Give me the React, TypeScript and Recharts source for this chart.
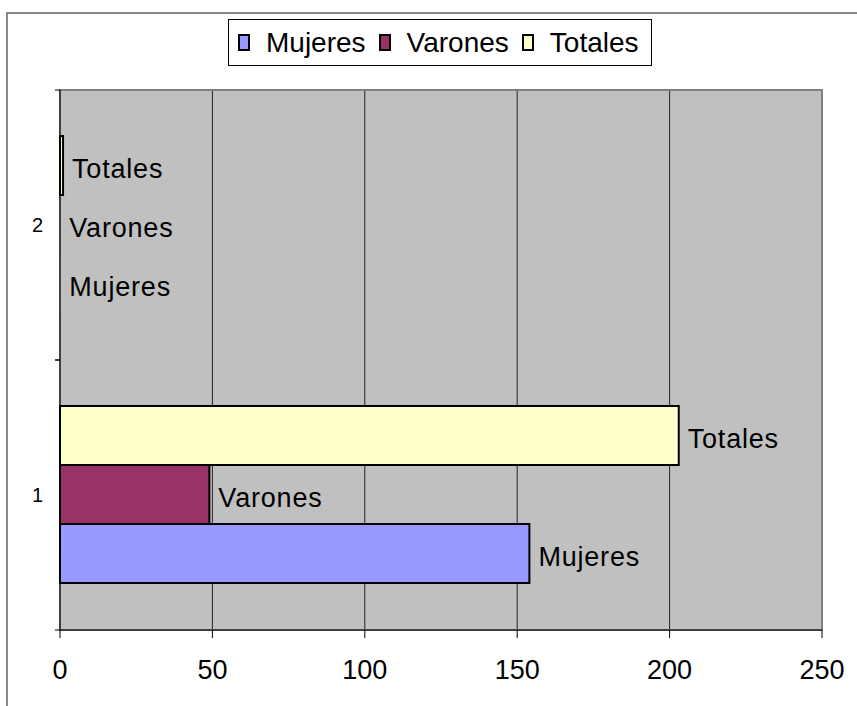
import {
  BarChart,
  Bar,
  Cell,
  XAxis,
  YAxis,
  CartesianGrid,
  Legend,
  LabelList,
  ReferenceArea,
} from "recharts"

const categories = ["1", "2"]
const mujeres = [154, 0]
const varones = [49, 0]
const totales = [203, 1]
const xTicks = [0, 50, 100, 150, 200, 250]
const seriesNames = ["Mujeres", "Varones", "Totales"]
const seriesColors = ["#9999FF", "#993366", "#FFFFCC"]

const data = categories.map((cat, i) => ({
  cat,
  Mujeres: mujeres[i],
  Varones: varones[i],
  Totales: totales[i],
}))

const FONT = '"Liberation Sans", Arial, sans-serif'

function LegendBox() {
  return (
    <div
      style={{
        display: "flex",
        alignItems: "center",
        height: 47,
        boxSizing: "border-box",
        border: "1px solid #000",
        background: "#fff",
        padding: "0 12px 0 9px",
        fontFamily: FONT,
        fontSize: 28,
        color: "#000",
        whiteSpace: "nowrap",
      }}
    >
      {seriesNames.map((name, i) => (
        <span key={name} style={{ display: "flex", alignItems: "center", marginRight: i < 2 ? 13 : 0 }}>
          <span
            style={{
              display: "inline-block",
              width: 12,
              height: 17,
              boxSizing: "border-box",
              border: "2px solid #000",
              background: seriesColors[i],
              marginRight: 16,
            }}
          />
          <span>{name}</span>
        </span>
      ))}
    </div>
  )
}

// category label plus small tick marks on the band edges
function CatTick(props: any) {
  const { x, y, payload } = props
  const half = payload && payload.offset ? payload.offset : 135
  return (
    <g>
      <line x1={55} x2={60} y1={y - half} y2={y - half} stroke="#000" />
      <line x1={55} x2={60} y1={y + half} y2={y + half} stroke="#000" />
      <text x={x} y={y} dy="0.35em" textAnchor="end" fill="#000" fontSize={20} fontFamily={FONT}>
        {payload.value}
      </text>
    </g>
  )
}

export default function App() {
  // bars listed top to bottom inside each band
  const order = [2, 1, 0]

  return (
    <div style={{ position: "relative", width: 857, height: 706, overflow: "hidden", background: "#fff", fontFamily: FONT }}>
      <style>{`body{margin:0}`}</style>
      <div
        style={{
          position: "absolute",
          left: 6,
          top: 12,
          width: 900,
          height: 800,
          borderTop: "2px solid #888",
          borderLeft: "2px solid #888",
        }}
      />
      <div style={{ position: "absolute", left: 0, top: 0 }}>
        <BarChart
          width={857}
          height={706}
          data={data}
          layout="vertical"
          margin={{ top: 90, right: 35, left: 0, bottom: 0 }}
          barCategoryGap="17%"
          barGap={0}
        >
          <CartesianGrid horizontal={false} vertical stroke="#222" fill="#C0C0C0" fillOpacity={1} />
          <ReferenceArea x1={0} x2={250} fill="none" stroke="#808080" strokeWidth={2} />
          <XAxis
            type="number"
            domain={[0, 250]}
            ticks={xTicks}
            height={76}
            tickSize={8}
            tickMargin={22}
            axisLine={{ stroke: "#000" }}
            tickLine={{ stroke: "#000" }}
            tick={{ fill: "#000", fontSize: 27, fontFamily: FONT }}
          />
          <YAxis
            type="category"
            dataKey="cat"
            reversed
            width={60}
            tickLine={false}
            tickSize={5}
            tickMargin={12}
            axisLine={{ stroke: "#000" }}
            tick={<CatTick />}
          />
          <Legend
            verticalAlign="middle"
            align="center"
            layout="horizontal"
            wrapperStyle={{ left: 228, top: 19, width: "auto" }}
            content={() => <LegendBox />}
          />
          {order.map((i) => (
            <Bar
              key={seriesNames[i]}
              dataKey={seriesNames[i]}
              fill={seriesColors[i]}
              stroke="#000"
              strokeWidth={2}
              minPointSize={0.3}
              isAnimationActive={false}
            >
              {data.map((d: any, k) => (
                <Cell key={k} stroke={d[seriesNames[i]] === 0 ? "none" : "#000"} />
              ))}
              <LabelList
                dataKey={seriesNames[i]}
                position="right"
                offset={9}
                dy={3}
                formatter={() => seriesNames[i]}
                fill="#000"
                fontSize={27}
                letterSpacing={0.8}
                fontFamily={FONT}
              />
            </Bar>
          ))}
        </BarChart>
      </div>
    </div>
  )
}
